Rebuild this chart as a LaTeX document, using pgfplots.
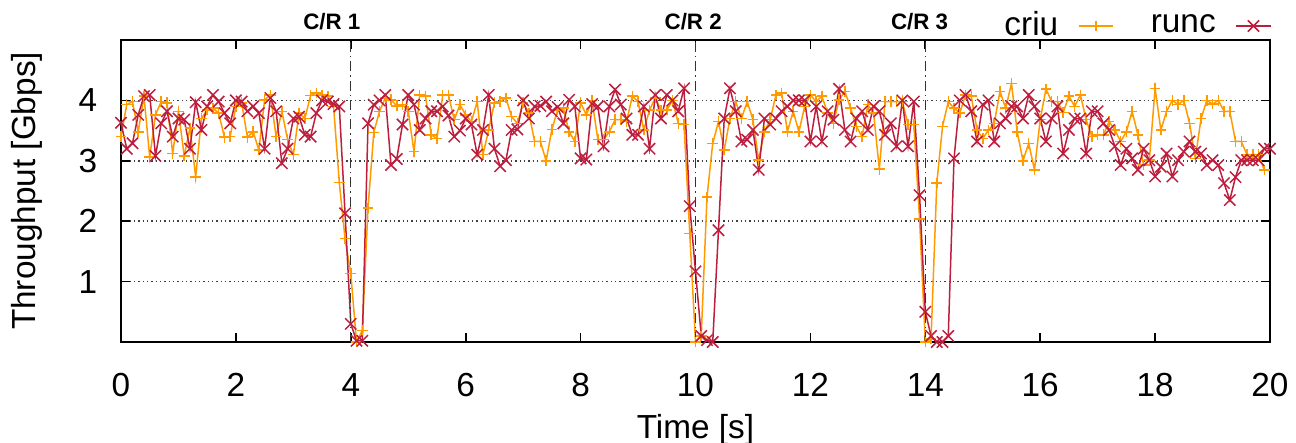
\documentclass[border=0pt]{standalone}
\usepackage{fontspec}
\setmainfont{Liberation Sans}
\usepackage{pgfplots}
\pgfplotsset{compat=1.18}
\definecolor{criucol}{RGB}{255,155,0}
\definecolor{runccol}{RGB}{190,30,62}

\begin{document}
\begin{tikzpicture}
\begin{axis}[
  name=ax,
  scale only axis,
  width=344.7pt, height=90.6pt,
  xmin=0, xmax=20, ymin=0, ymax=5,
  xtick={0,2,...,20}, ytick={1,2,3,4},
  tick align=inside, tick pos=both,
  major tick length=2.7pt,
  axis line style={line width=0.7pt},
  tick style={black, line width=0.5pt},
  ymajorgrids,
  major grid style={dash pattern=on 0.4pt off 0.9pt, line width=0.45pt, black!75},
  tick label style={font=\fontsize{10}{12}\selectfont},
  label style={font=\fontsize{10}{12}\selectfont},
  /pgf/number format/assume math mode=true,
  xticklabel style={anchor=base, yshift=-16.5pt},
  yticklabel style={anchor=east, xshift=-3.6pt},
  xlabel={Time [s]}, ylabel={Throughput [Gbps]},
  xlabel style={at={(axis description cs:0.5,-0.29)}, anchor=center},
  ylabel style={at={(axis description cs:-0.082,0.5)}, anchor=center},
  clip=false,
  legend plot pos=right,
  legend columns=2,
  legend style={draw=none, fill=none, at={(1,1)}, anchor=east, xshift=0.6pt, yshift=4.2pt,
    inner sep=0pt, column sep=0pt, nodes={inner sep=0pt},
    font=\fontsize{10}{12}\selectfont},
  legend image code/.code={\draw[mark repeat=2,mark phase=2] plot coordinates {(0cm,0cm)(0.18cm,0cm)(0.36cm,0cm)};},
]

% criu
\addplot[criucol, line width=0.45pt, mark=+, mark size=1.6pt] coordinates {
(0.0,3.4)(0.1,3.93)(0.2,3.98)(0.3,3.48)(0.4,4.07)(0.5,3.06)(0.6,3.76)(0.7,3.98)(0.8,3.96)(0.9,3.12)
(1.0,3.82)(1.1,3.08)(1.2,3.54)(1.3,2.73)(1.4,3.7)(1.5,3.84)(1.6,3.87)(1.7,3.79)(1.8,3.39)(1.9,3.4)
(2.0,3.9)(2.1,3.96)(2.2,3.39)(2.3,3.48)(2.4,3.18)(2.5,4.01)(2.6,4.09)(2.7,3.4)(2.8,3.82)(2.9,3.35)
(3.0,3.1)(3.1,3.79)(3.2,3.7)(3.3,4.08)(3.4,4.12)(3.5,4.09)(3.6,4.07)(3.7,3.9)(3.8,2.64)(3.9,1.71)
(4.0,1.13)(4.1,0.0)(4.2,0.19)(4.3,2.22)(4.4,3.47)(4.5,3.82)(4.6,4.04)(4.7,4.01)(4.8,3.91)(4.9,3.93)
(5.0,3.82)(5.1,3.15)(5.2,4.09)(5.3,4.07)(5.4,3.43)(5.5,3.37)(5.6,4.09)(5.7,4.09)(5.8,3.68)(5.9,3.93)
(6.0,3.76)(6.1,3.65)(6.2,3.98)(6.3,3.1)(6.4,3.51)(6.5,3.96)(6.6,3.98)(6.7,4.04)(6.8,3.73)(6.9,3.62)
(7.0,3.96)(7.1,3.79)(7.2,3.32)(7.3,3.32)(7.4,3.0)(7.5,3.52)(7.6,3.84)(7.7,3.87)(7.8,3.48)(7.9,3.32)
(8.0,3.96)(8.1,3.76)(8.2,4.0)(8.3,3.35)(8.4,3.35)(8.5,3.48)(8.6,3.68)(8.7,3.68)(8.8,3.65)(8.9,4.07)
(9.0,3.98)(9.1,3.51)(9.2,3.84)(9.3,4.04)(9.4,3.84)(9.5,3.84)(9.6,4.0)(9.7,3.62)(9.8,3.6)(9.9,1.8)
(10.0,0.0)(10.1,0.1)(10.2,2.4)(10.3,3.29)(10.4,3.65)(10.5,3.18)(10.6,3.7)(10.7,3.98)(10.8,3.7)(10.9,3.98)
(11.0,3.68)(11.1,3.01)(11.2,3.48)(11.3,3.68)(11.4,4.09)(11.5,4.12)(11.6,3.48)(11.7,3.82)(11.8,3.48)(11.9,3.9)
(12.0,4.09)(12.1,3.98)(12.2,4.07)(12.3,3.79)(12.4,3.62)(12.5,4.01)(12.6,4.15)(12.7,3.87)(12.8,3.57)(12.9,3.4)
(13.0,3.93)(13.1,3.79)(13.2,2.86)(13.3,3.98)(13.4,3.98)(13.5,3.98)(13.6,3.98)(13.7,3.6)(13.8,3.6)(13.9,2.04)
(14.0,0.0)(14.1,0.05)(14.2,2.63)(14.3,3.57)(14.4,3.98)(14.5,3.87)(14.6,3.79)(14.7,4.09)(14.8,4.07)(14.9,3.51)
(15.0,3.37)(15.1,3.51)(15.2,3.62)(15.3,4.15)(15.4,3.87)(15.5,4.28)(15.6,3.48)(15.7,3.0)(15.8,3.29)(15.9,2.85)
(16.0,3.68)(16.1,4.19)(16.2,3.98)(16.3,3.98)(16.4,3.8)(16.5,4.07)(16.6,3.9)(16.7,4.09)(16.8,3.68)(16.9,3.4)
(17.0,3.43)(17.1,3.43)(17.2,3.65)(17.3,3.51)(17.4,3.32)(17.5,3.48)(17.6,3.82)(17.7,3.43)(17.8,2.93)(17.9,3.01)
(18.0,4.2)(18.1,3.51)(18.2,3.82)(18.3,4.0)(18.4,3.93)(18.5,4.0)(18.6,3.62)(18.7,3.04)(18.8,3.7)(18.9,4.0)
(19.0,3.94)(19.1,4.0)(19.2,3.82)(19.3,3.82)(19.4,3.32)(19.5,3.32)(19.6,3.1)(19.7,3.1)(19.8,3.1)(19.9,2.85)
};

% runc
\addplot[runccol, line width=0.45pt, mark=x, mark size=2.4pt] coordinates {
(0.0,3.63)(0.1,3.2)(0.2,3.29)(0.3,3.76)(0.4,4.07)(0.5,4.09)(0.6,3.08)(0.7,3.62)(0.8,3.82)(0.9,3.4)
(1.0,3.7)(1.1,3.68)(1.2,3.2)(1.3,3.97)(1.4,3.51)(1.5,3.9)(1.6,4.09)(1.7,3.98)(1.8,3.79)(1.9,3.62)
(2.0,4.0)(2.1,3.98)(2.2,3.82)(2.3,3.9)(2.4,3.79)(2.5,3.2)(2.6,4.04)(2.7,3.82)(2.8,2.96)(2.9,3.2)
(3.0,3.7)(3.1,3.73)(3.2,3.43)(3.3,3.4)(3.4,3.79)(3.5,4.0)(3.6,3.98)(3.7,3.94)(3.8,3.9)(3.9,2.13)
(4.0,0.3)(4.1,0.02)(4.2,0.02)(4.3,3.62)(4.4,3.93)(4.5,4.0)(4.6,4.09)(4.7,2.93)(4.8,3.03)(4.9,3.6)
(5.0,4.09)(5.1,3.93)(5.2,3.51)(5.3,3.7)(5.4,3.82)(5.5,3.82)(5.6,3.9)(5.7,3.75)(5.8,3.4)(5.9,3.5)
(6.0,3.7)(6.1,3.6)(6.2,3.1)(6.3,3.51)(6.4,4.09)(6.5,3.2)(6.6,2.91)(6.7,3.01)(6.8,3.51)(6.9,3.52)
(7.0,4.0)(7.1,3.7)(7.2,3.9)(7.3,3.91)(7.4,3.98)(7.5,3.82)(7.6,3.89)(7.7,3.62)(7.8,4.01)(7.9,3.9)
(8.0,3.04)(8.1,3.02)(8.2,3.94)(8.3,3.9)(8.4,3.24)(8.5,3.9)(8.6,4.18)(8.7,3.93)(8.8,3.7)(8.9,3.43)
(9.0,3.43)(9.1,3.9)(9.2,3.2)(9.3,4.09)(9.4,3.7)(9.5,4.09)(9.6,4.0)(9.7,3.82)(9.8,4.2)(9.9,2.25)
(10.0,1.17)(10.1,0.1)(10.2,0.03)(10.3,0.0)(10.4,1.85)(10.5,3.7)(10.6,4.2)(10.7,3.82)(10.8,3.32)(10.9,3.35)
(11.0,3.51)(11.1,2.85)(11.2,3.7)(11.3,3.6)(11.4,3.7)(11.5,3.82)(11.6,3.9)(11.7,4.0)(11.8,4.0)(11.9,4.0)
(12.0,3.32)(12.1,3.9)(12.2,3.32)(12.3,3.82)(12.4,3.68)(12.5,4.19)(12.6,3.51)(12.7,3.32)(12.8,3.7)(12.9,3.82)
(13.0,3.51)(13.1,3.9)(13.2,3.82)(13.3,3.43)(13.4,3.62)(13.5,3.24)(13.6,4.0)(13.7,3.24)(13.8,3.98)(13.9,2.43)
(14.0,0.5)(14.1,0.1)(14.2,0.0)(14.3,0.0)(14.4,0.1)(14.5,3.04)(14.6,4.0)(14.7,4.09)(14.8,3.82)(14.9,3.32)
(15.0,3.93)(15.1,4.0)(15.2,3.32)(15.3,3.62)(15.4,3.7)(15.5,3.9)(15.6,3.9)(15.7,3.7)(15.8,4.09)(15.9,3.9)
(16.0,3.7)(16.1,3.32)(16.2,3.7)(16.3,3.9)(16.4,3.12)(16.5,3.51)(16.6,3.7)(16.7,3.7)(16.8,3.12)(16.9,3.82)
(17.0,3.82)(17.1,3.62)(17.2,3.51)(17.3,3.24)(17.4,2.93)(17.5,3.2)(17.6,3.04)(17.7,2.85)(17.8,3.2)(17.9,3.01)
(18.0,2.74)(18.1,2.9)(18.2,3.12)(18.3,2.74)(18.4,3.01)(18.5,3.15)(18.6,3.32)(18.7,3.15)(18.8,3.12)(18.9,2.93)
(19.0,3.01)(19.1,2.93)(19.2,2.63)(19.3,2.35)(19.4,2.73)(19.5,3.01)(19.6,3.01)(19.7,3.01)(19.8,3.01)(19.9,3.2)
(20.0,3.2)
};
\legend{criu\rule{6pt}{0pt},\hspace{11.1pt}runc\rule{6pt}{0pt}}

\draw[black!80, line width=0.4pt, dash pattern=on 3pt off 1.2pt on 0.4pt off 1.2pt] (axis cs:4,0) -- (axis cs:4,5);
\draw[black!80, line width=0.4pt, dash pattern=on 3pt off 1.2pt on 0.4pt off 1.2pt] (axis cs:10,0) -- (axis cs:10,5);
\draw[black!80, line width=0.4pt, dash pattern=on 3pt off 1.2pt on 0.4pt off 1.2pt] (axis cs:14,0) -- (axis cs:14,5);
\node[font=\bfseries\fontsize{6.7}{8}\selectfont, yshift=5.4pt] at (axis cs:3.67,5) {C/R 1};
\node[font=\bfseries\fontsize{6.7}{8}\selectfont, yshift=5.4pt] at (axis cs:9.96,5) {C/R 2};
\node[font=\bfseries\fontsize{6.7}{8}\selectfont, yshift=5.4pt] at (axis cs:13.9,5) {C/R 3};
\end{axis}
\pgfresetboundingbox
\path[use as bounding box] ([xshift=-36.3pt,yshift=-30.3pt]ax.south west) rectangle ([xshift=7.8pt,yshift=12pt]ax.north east);
\end{tikzpicture}
\end{document}
